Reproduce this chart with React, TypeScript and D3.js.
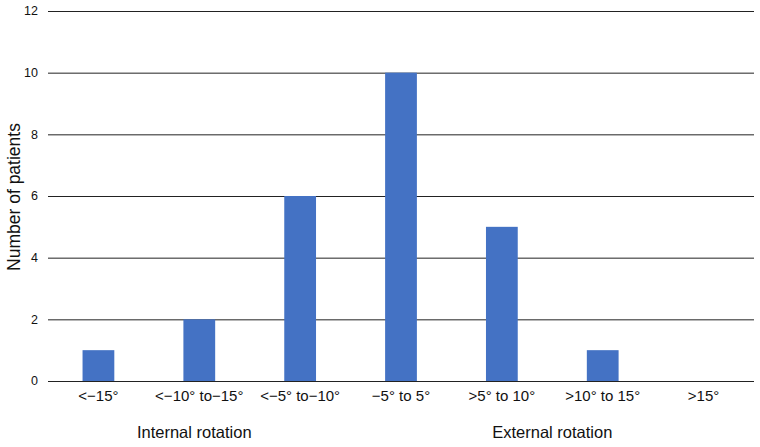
import React from "react";
import * as d3 from "d3";

const categories = ["<\u221215\u00b0", "<\u221210\u00b0 to\u221215\u00b0", "<\u22125\u00b0 to\u221210\u00b0", "\u22125\u00b0 to 5\u00b0", ">5\u00b0 to 10\u00b0", ">10\u00b0 to 15\u00b0", ">15\u00b0"];
const values = [1, 2, 6, 10, 5, 1, 0];
const yTicks = [0, 2, 4, 6, 8, 10, 12];
const groupLabels = ["Internal rotation", "External rotation"];
const groupCenters = [1.45, 5.0];

const W = 760, H = 447;
const left = 48, right = 754, top = 11, bottom = 381;

export default function App() {
  const x = d3.scaleBand<string>().domain(categories).range([left, right]).paddingInner(0).paddingOuter(0);
  const y = d3.scaleLinear().domain([0, 12]).range([bottom, top]);
  const bw = x.bandwidth() * 0.315;
  const xc = d3.scaleLinear().domain([0, categories.length]).range([left, right]);
  const font = "'Liberation Sans', Arial, Helvetica, sans-serif";
  return (
    <svg width={W} height={H} style={{ position: "absolute", left: 0, top: 0 }} fontFamily={font}>
      <rect x={0} y={0} width={W} height={H} fill="#fff" />
      {yTicks.map((t) => (
        <g key={t}>
          <line x1={left} x2={right} y1={y(t) + 0.5} y2={y(t) + 0.5} stroke="#222" strokeWidth={1} />
          <text x={38} y={y(t)} dy="0.35em" textAnchor="end" fontSize={12.5} fill="#111">{t}</text>
        </g>
      ))}
      {categories.map((c, i) => (
        values[i] > 0 ? (
          <rect key={c} x={x(c)! + x.bandwidth() / 2 - bw / 2} y={y(values[i])} width={bw} height={y(0) - y(values[i])} fill="#4472C4" />
        ) : null
      ))}
      <line x1={left} x2={right} y1={bottom + 0.5} y2={bottom + 0.5} stroke="#222" strokeWidth={1} />
      {categories.map((c) => (
        <text key={c} x={x(c)! + x.bandwidth() / 2} y={401} textAnchor="middle" fontSize={15} fill="#111">{c}</text>
      ))}
      {groupLabels.map((g, i) => (
        <text key={g} x={xc(groupCenters[i])} y={438} textAnchor="middle" fontSize={16.5} fill="#111">{g}</text>
      ))}
      <text transform={`translate(20, 197) rotate(-90)`} textAnchor="middle" fontSize={17.5} fill="#111">Number of patients</text>
    </svg>
  );
}
